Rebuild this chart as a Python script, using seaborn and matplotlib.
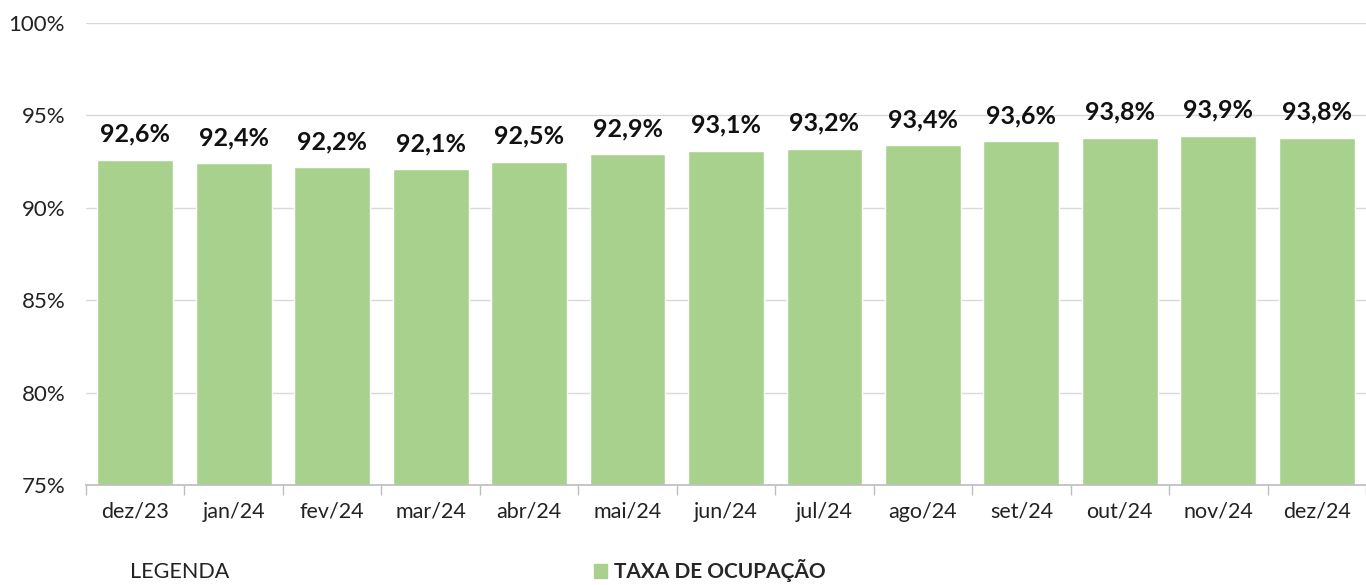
import pandas as pd
import seaborn as sns
import matplotlib.pyplot as plt
from matplotlib.patches import Patch

# data
months = ['dez/23', 'jan/24', 'fev/24', 'mar/24', 'abr/24', 'mai/24', 'jun/24',
          'jul/24', 'ago/24', 'set/24', 'out/24', 'nov/24', 'dez/24']
taxa = [92.6, 92.4, 92.2, 92.1, 92.5, 92.9, 93.1, 93.2, 93.4, 93.6, 93.8, 93.9, 93.8]
y_ticks = [75, 80, 85, 90, 95, 100]

green = '#a9d18e'

sns.set_theme(style='white')
plt.rcParams['font.family'] = ['Lato', 'DejaVu Sans']

df = pd.DataFrame({'mes': months, 'taxa': taxa})

fig = plt.figure(figsize=(13.66, 5.85), dpi=100)
ax = fig.add_axes([86 / 1366, 1 - 485 / 585, 1280 / 1366, 462 / 585])

sns.barplot(data=df, x='mes', y='taxa', color=green, width=0.77, saturation=1, ax=ax)

ax.set_ylim(75, 100)
ax.set_xlim(-0.5, len(months) - 0.5)
ax.set_yticks(y_ticks)
ax.set_yticklabels([f'{v}%' for v in y_ticks], fontsize=16, color='#222222')
ax.yaxis.grid(True, color='#d9d9d9', linewidth=1)
ax.set_axisbelow(True)
ax.set_xlabel('')
ax.set_ylabel('')

# category labels in the middle, tick marks at the boundaries
ax.tick_params(axis='x', which='major', length=0, pad=12, labelsize=15.5, labelcolor='#222222')
ax.set_xticks([i - 0.5 for i in range(len(months) + 1)], minor=True)
ax.tick_params(axis='x', which='minor', length=7, color='#bfbfbf', width=1, bottom=True)
ax.tick_params(axis='y', length=0, pad=15)

for s in ['top', 'right', 'left']:
    ax.spines[s].set_visible(False)
ax.spines['bottom'].set_color('#bfbfbf')

labels = [f'{v:.1f}%'.replace('.', ',') for v in taxa]
ax.bar_label(ax.containers[0], labels=labels, padding=10, fontsize=18,
             fontweight='bold', color='#111111')

fig.text(130 / 1366, 1 - 572 / 585, 'LEGENDA', fontsize=15.5, color='#222222', va='center')
fig.legend(handles=[Patch(color=green)], labels=['TAXA DE OCUPAÇÃO'],
           loc='center left', bbox_to_anchor=(575 / 1366, 1 - 571 / 585),
           frameon=False, handlelength=0.65, handleheight=0.65, handletextpad=0.3,
           prop={'weight': 'bold', 'size': 15})

fig.savefig('out.png', dpi=100)
